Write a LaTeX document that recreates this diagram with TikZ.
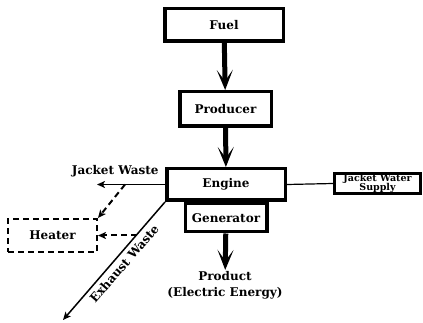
\documentclass[tikz,border=0pt]{standalone}
\usepackage{fontspec}
\setmainfont{DejaVu Serif}
\usetikzlibrary{arrows.meta}
\begin{document}
\begin{tikzpicture}[
		x=1pt, y=-1pt,
		every node/.style={font=\fontsize{12pt}{16pt}\selectfont\bfseries},
		kasten/.style={draw, line width=3.5pt, inner sep=0pt, align=center},
		hauptpfeil/.style={line width=5pt, -{Stealth[length=20pt,width=16pt,inset=11pt]}},
		nebenpfeil/.style={line width=1.5pt, -{Stealth[length=8pt,width=7pt,inset=2pt]}},
		strichpfeil/.style={line width=2pt, dash pattern=on 6pt off 4pt, -{Stealth[length=8pt,width=7pt,inset=2pt]}}
		]
		\useasboundingbox (0,0) rectangle (423,323);
		
		% Kaesten
		\node [kasten, minimum width=118.5pt, minimum height=32.5pt] (fuel) at (224,25) {Fuel};
		\node [kasten, minimum width=91.5pt, minimum height=34.5pt] (producer) at (225.5,109) {Producer};
		\node [kasten, minimum width=118.5pt, minimum height=31.5pt] (engine) at (226,184.5) {Engine};
		\node [kasten, minimum width=81.5pt, minimum height=28pt, anchor=north] (generator) at (engine.south) {Generator};
		\node [kasten, line width=3pt, minimum width=86pt, minimum height=20pt,
			font=\fontsize{9.5pt}{9.5pt}\selectfont\bfseries] (jws) at (377.5,183.5) {Jacket Water\\Supply};
		\node [draw, line width=2pt, dash pattern=on 6pt off 4pt, minimum width=89pt, minimum height=33pt] (heater) at (52.5,235.5) {Heater};
		\node [inner sep=1pt, align=center] (product) at (225,285) {Product\\(Electric Energy)};
		
		% Hauptfluss
		\draw [hauptpfeil] (fuel) -- (producer);
		\draw [hauptpfeil] (producer) -- (engine);
		\draw [hauptpfeil] (generator) -- (product);
		\draw [line width=1.2pt] (engine.east) -- (jws.west);
		
		% Abwaerme
		\coordinate (jwende) at (97,184.5);
		\coordinate (jwab) at (125,184.5);
		\coordinate (exende) at (63,320);
		\coordinate (exab) at (136.7,235.5);
		\draw [nebenpfeil] (engine.west) -- (jwende);
		\node [anchor=south east] (jwtext) at (162,181) {Jacket Waste};
		\draw [nebenpfeil] (engine.south west) -- (exende)
			node (extext) [pos=0.47, sloped, below, inner sep=4pt] {Exhaust Waste};
		\draw [strichpfeil] (jwab) -- (heater.north east);
		\draw [strichpfeil] (exab) -- (heater.east);
		
	\end{tikzpicture}
\end{document}
